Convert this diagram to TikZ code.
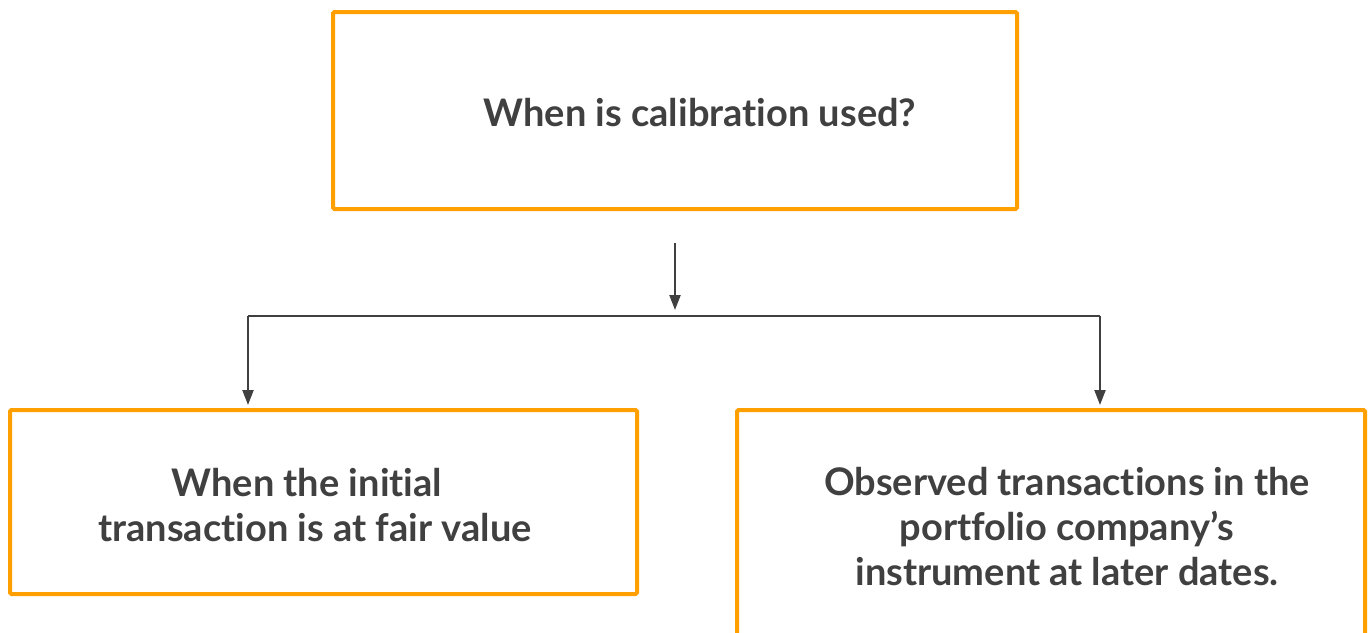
\documentclass[tikz,border=0pt]{standalone}
\usepackage{fontspec}
\setmainfont{Lato}[Ligatures={NoCommon}]
\usetikzlibrary{arrows.meta}
\definecolor{boxorange}{RGB}{255,160,0}
\definecolor{ink}{RGB}{64,64,64}
\begin{document}
\begin{tikzpicture}[x=1pt,y=-1pt,
  box/.style={draw=boxorange,line width=4pt,rounded corners=1.5pt,fill=white,inner sep=0pt},
  lbl/.style={text=ink,font=\fontsize{38}{45}\selectfont\bfseries,align=center,inner sep=0pt},
  link/.style={draw=ink,line width=2.2pt},
  conn/.style={link,-{Triangle[length=15pt,width=11pt]}}]
\useasboundingbox[fill=white] (0,0) rectangle (1372,632);
\node[box,minimum width=684pt,minimum height=197pt] (T) at (675,110.5) {};
\node[box,minimum width=627pt,minimum height=184pt] (L) at (323.5,502) {};
\node[box,minimum width=628pt,minimum height=240pt] (R) at (1051,530) {};
\node[lbl,anchor=base] (tt) at (700,126) {When is calibration used?};
\node[lbl,anchor=base] (lt) at (315,541) {When the initial\hspace*{16pt}\\transaction is at fair value};
\node[lbl,anchor=base] (rt) at (1067,585) {Observed transactions in the\\portfolio company’s\\instrument at later dates.};
\coordinate (s) at (675,243);
\coordinate (j) at (675,316);
\coordinate (jL) at (248,316);
\coordinate (jR) at (1100,316);
\draw[conn,shorten >=6pt] (s) -- (j);
\draw[link] (jL) -- (jR);
\draw[conn,shorten >=3pt] (jL) -- (jL |- L.north);
\draw[conn,shorten >=3pt] (jR) -- (jR |- R.north);
\end{tikzpicture}
\end{document}
